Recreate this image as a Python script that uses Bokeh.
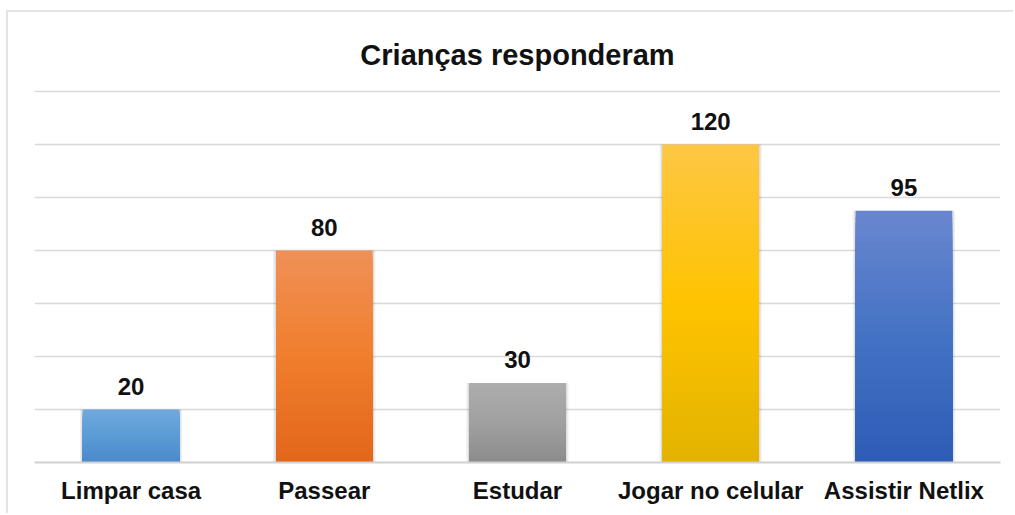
from bokeh.plotting import figure
from bokeh.models import ColumnDataSource, LabelSet, FixedTicker
from bokeh.core.properties import value
from bokeh.embed import file_html
from bokeh.resources import INLINE

title_text = "Crianças responderam"
categories = ["Limpar casa", "Passear", "Estudar", "Jogar no celular", "Assistir Netlix"]
values = [20, 80, 30, 120, 95]
tick_values = [0, 20, 40, 60, 80, 100, 120, 140]

# gradient stops per bar: (bottom, middle, top)
stops = [
    ("#4a89cc", "#5b9bd5", "#70a9de"),
    ("#e2661b", "#f07e2c", "#f09058"),
    ("#8c8c8c", "#a0a0a0", "#adadad"),
    ("#e2b300", "#ffc300", "#fdc744"),
    ("#2e5cb6", "#4472c4", "#6987cf"),
]

FONT = "Liberation Sans"
W, H = 1007, 503
ML, MR, MB = 26, 15, 53
FRAME_H = H - MB                 # frame spans from canvas top to the axis
PX_PER_UNIT = 371 / 140          # 140 gridline sits 371 px above the axis
Y_TOP = FRAME_H / PX_PER_UNIT    # extra headroom hosts the title
TITLE_Y = 408 / PX_PER_UNIT      # title baseline 408 px above the axis


def hex2rgb(h):
    h = h.lstrip("#")
    return tuple(int(h[i:i + 2], 16) for i in (0, 2, 4))


def mix(c1, c2, t):
    a, b = hex2rgb(c1), hex2rgb(c2)
    return "#%02x%02x%02x" % tuple(round(a[i] + (b[i] - a[i]) * t) for i in range(3))


def grad(st, t):
    if t <= 0.5:
        return mix(st[0], st[1], t / 0.5)
    return mix(st[1], st[2], (t - 0.5) / 0.5)


N = 40
xs, tops, cols = [], [], []
for k in range(N, 0, -1):
    t = k / N
    for c, v, st in zip(categories, values, stops):
        xs.append(c)
        tops.append(v * t)
        cols.append(grad(st, t - 0.5 / N))
slices = ColumnDataSource(dict(x=xs, top=tops, color=cols))
src = ColumnDataSource(dict(x=categories, top=values, label=[str(v) for v in values]))

p = figure(
    x_range=categories, y_range=(0, Y_TOP),
    width=W, height=H,
    output_backend="svg", toolbar_location=None,
    min_border_left=ML, min_border_right=MR, min_border_top=0, min_border_bottom=MB,
)
p.styles = {"border-left": "2px solid #e4e4e4", "border-top": "2px solid #e4e4e4",
            "margin-left": "6px", "margin-top": "10px"}

p.outline_line_color = None
p.background_fill_color = "white"
p.border_fill_color = "white"

# title (centred over the middle category = centre of the plot area)
p.text(x=[categories[len(categories) // 2]], y=[TITLE_Y], text=[title_text],
       text_align="center", text_baseline="alphabetic",
       text_font=value(FONT), text_font_size=value("29px"),
       text_font_style="bold", text_color="#111111")

# soft shadow
p.vbar(x="x", top="top", width=0.53, source=src, fill_color="#000000",
       fill_alpha=0.06, line_color=None)
p.vbar(x="x", top="top", width=0.515, source=src, fill_color="#000000",
       fill_alpha=0.08, line_color=None)
p.vbar(x="x", top="top", width=0.5, source=slices, fill_color="color",
       line_color=None)

labels = LabelSet(x="x", y="top", text="label", source=src, y_offset=15,
                  text_align="center", text_baseline="alphabetic",
                  text_font=value(FONT), text_font_size=value("24px"),
                  text_font_style="bold", text_color="#111111")
p.add_layout(labels)

p.yaxis.visible = False
p.ygrid.ticker = FixedTicker(ticks=tick_values)
p.ygrid.grid_line_color = "#d9d9d9"
p.ygrid.grid_line_width = 1.5
p.xgrid.grid_line_color = None

p.xaxis.axis_line_color = "#d0d0d0"
p.xaxis.axis_line_width = 2
p.xaxis.major_tick_line_color = None
p.xaxis.minor_tick_line_color = None
p.xaxis.major_label_text_font = FONT
p.xaxis.major_label_text_font_size = "24px"
p.xaxis.major_label_text_font_style = "bold"
p.xaxis.major_label_text_color = "#111111"
p.xaxis.major_label_standoff = 8
p.x_range.range_padding = 0

open("out.html", "w").write(file_html(p, INLINE))
